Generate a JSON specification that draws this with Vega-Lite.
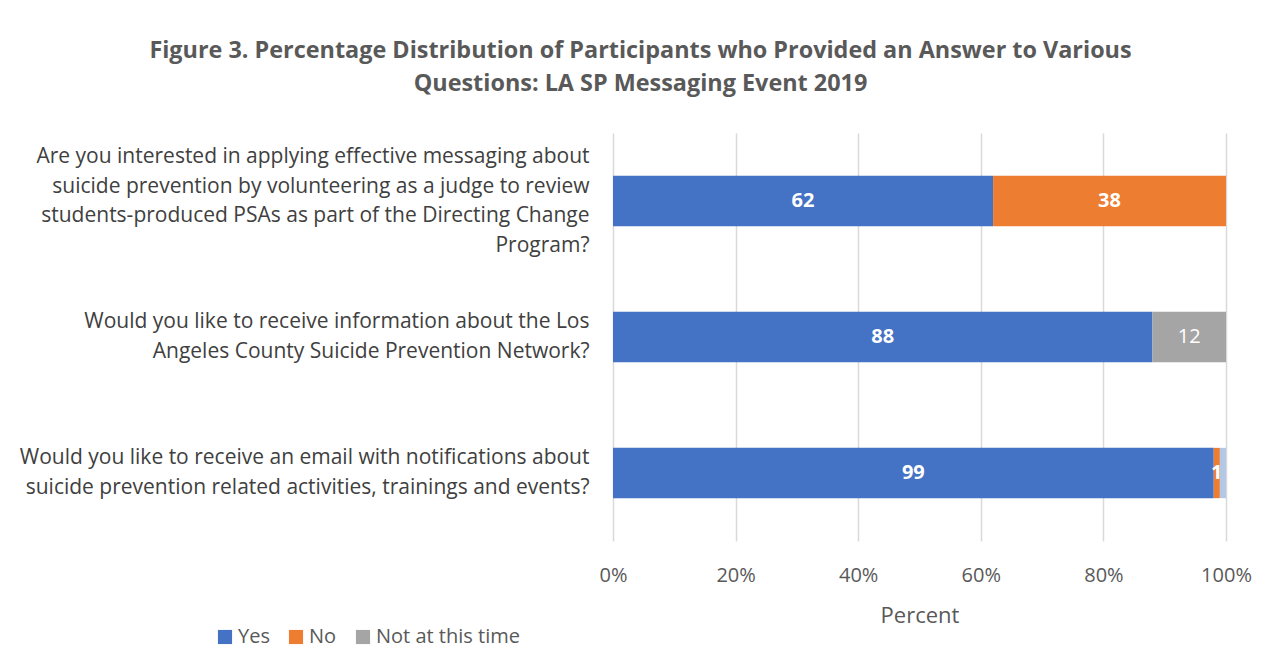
{
  "$schema": "https://vega.github.io/schema/vega-lite/v6.json",
  "width": 613,
  "height": 408,
  "autosize": {"type": "none"},
  "padding": {"left": 613, "top": 133, "right": 43, "bottom": 130},
  "background": "white",
  "config": {
    "font": "Open Sans",
    "view": {"stroke": null}
  },
  "title": {
    "text": ["Figure 3. Percentage Distribution of Participants who Provided an Answer to Various", "Questions:  LA SP Messaging Event 2019"],
    "fontSize": 23.4,
    "fontWeight": "bold",
    "color": "#595959",
    "lineHeight": 33,
    "anchor": "middle",
    "dx": -279,
    "offset": 37
  },
  "data": {
    "values": [
      {"q": "Q1", "resp": "Yes", "v": 62, "ord": 1, "label": "62"},
      {"q": "Q1", "resp": "No", "v": 38, "ord": 2, "label": "38"},
      {"q": "Q2", "resp": "Yes", "v": 88, "ord": 1, "label": "88"},
      {"q": "Q2", "resp": "Not at this time", "v": 12, "ord": 3, "label": "12"},
      {"q": "Q3", "resp": "Yes", "v": 98, "ord": 1, "label": "99"},
      {"q": "Q3", "resp": "No", "v": 1, "ord": 2, "label": "1"},
      {"q": "Q3", "resp": "Other", "v": 1, "ord": 4, "label": ""}
    ]
  },
  "transform": [
    {"stack": "v", "groupby": ["q"], "sort": [{"field": "ord"}], "as": ["v0", "v1"]},
    {"calculate": "(datum.v0 + datum.v1) / 2", "as": "mid"}
  ],
  "encoding": {
    "y": {
      "field": "q",
      "type": "nominal",
      "sort": ["Q1", "Q2", "Q3"],
      "scale": {"paddingInner": 0.63, "paddingOuter": 0.315},
      "axis": {
        "title": null,
        "ticks": false,
        "domain": false,
        "labelFontSize": 21,
        "labelColor": "#404040",
        "labelPadding": 24,
        "labelLineHeight": 29.5,
        "labelLimit": 700,
        "labelBaseline": "middle",
        "labelOffset": {"condition": {"test": "datum.value == 'Q1'", "value": -44}, "value": -15},
        "labelExpr": "datum.value == 'Q1' ? ['Are you interested in applying effective messaging about', 'suicide prevention by volunteering as a judge to review', 'students-produced PSAs as part of the Directing Change', 'Program?'] : datum.value == 'Q2' ? ['Would you like to receive information about the Los', 'Angeles County Suicide Prevention Network?'] : ['Would you like to receive an email with notifications about', 'suicide prevention related activities, trainings and events?']"
      }
    }
  },
  "layer": [
    {
      "mark": {"type": "bar"},
      "encoding": {
        "x": {
          "field": "v0",
          "type": "quantitative",
          "scale": {"domain": [0, 100]},
          "axis": {
            "values": [0, 20, 40, 60, 80, 100],
            "labelExpr": "datum.value + '%'",
            "labelFontSize": 20,
            "labelColor": "#595959",
            "labelPadding": 24,
            "labelFlush": false,
            "labelOverlap": false,
            "ticks": false,
            "domain": false,
            "grid": true,
            "gridColor": "#d9d9d9",
            "gridWidth": 1.5,
            "title": "Percent",
            "titleFontSize": 22,
            "titleFontWeight": "normal",
            "titleColor": "#595959",
            "titlePadding": 20
          }
        },
        "x2": {"field": "v1"},
        "color": {
          "field": "resp",
          "type": "nominal",
          "scale": {
            "domain": ["Yes", "No", "Not at this time", "Other"],
            "range": ["#4472c4", "#ed7d31", "#a5a5a5", "#b4c7e7"]
          },
          "legend": {
            "values": ["Yes", "No", "Not at this time"],
            "title": null,
            "orient": "none",
            "direction": "horizontal",
            "legendX": -398,
            "legendY": 494,
            "labelFontSize": 20,
            "labelColor": "#595959",
            "symbolType": "square",
            "symbolSize": 200,
            "symbolStrokeWidth": 0,
            "columnPadding": 16,
            "labelOffset": 3
          }
        }
      }
    },
    {
      "transform": [{"filter": "datum.resp != 'Not at this time'"}],
      "mark": {"type": "text", "fontSize": 20, "color": "white", "fontWeight": "bold"},
      "encoding": {
        "x": {"field": "mid", "type": "quantitative"},
        "text": {"field": "label"}
      }
    },
    {
      "transform": [{"filter": "datum.resp == 'Not at this time'"}],
      "mark": {"type": "text", "fontSize": 20, "color": "white", "fontWeight": "normal"},
      "encoding": {
        "x": {"field": "mid", "type": "quantitative"},
        "text": {"field": "label"}
      }
    }
  ]
}
